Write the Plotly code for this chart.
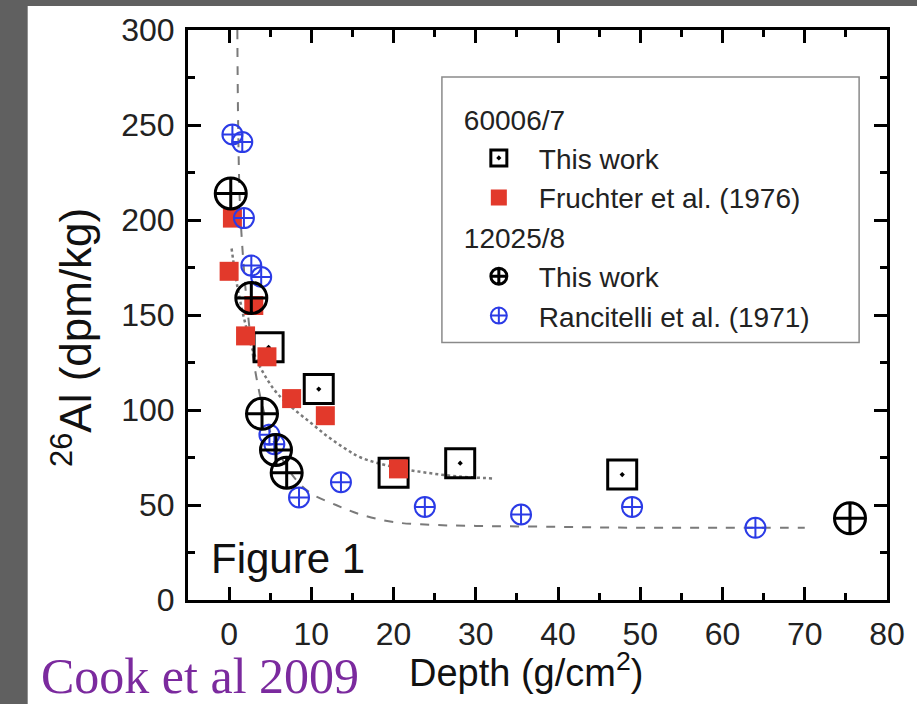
import plotly.graph_objects as go

# 60006/7 - this work (open squares with dot)
sq_x = [4.8, 10.9, 20.0, 28.1, 47.8]
sq_y = [133, 111, 67, 72, 66]

# 60006/7 - Fruchter et al. (1976)
fr_x = [0.0, 0.4, 2.0, 3.0, 4.6, 7.6, 11.7, 20.6]
fr_y = [173, 201, 139, 155, 128, 106, 97, 69]

# 12025/8 - this work (crossed circles)
cc_x = [0.2, 2.7, 4.0, 5.7, 7.0, 75.5]
cc_y = [214, 159, 98, 79, 67, 43]

# 12025/8 - Rancitelli et al. (1971)
ra_x = [0.4, 1.6, 1.8, 2.7, 3.9, 4.9, 5.5, 8.5, 13.6, 23.8, 35.5, 49.0, 64.0]
ra_y = [245, 241, 201, 176, 170, 87, 82, 54, 62, 49, 45, 49, 38]

# fitted curves
dash_x = [1.0, 1.1, 1.3, 1.7, 2.3, 3.2, 4.5, 6, 8, 10, 13, 16, 20, 25, 30, 40, 50, 60, 70]
dash_y = [300, 250, 210, 180, 150, 120, 95, 78, 64, 56, 50, 45, 41, 39.5, 39, 38.5, 38, 38, 38]
dot_x = [0.3, 1, 2, 3, 4.5, 6, 8, 10, 12, 14, 16, 20, 24, 28, 32]
dot_y = [185, 165, 145, 130, 117, 108, 100, 93, 86, 80, 75, 70, 67, 65, 64]

W, H = 917, 704
L, R, T, B = 188, 27, 29, 104
PW, PH = W - L - R, H - T - B


def px(x):
    return (x - L) / PW


def py(y):
    return 1 - (y - T) / PH


FONT = "Liberation Sans, Arial, sans-serif"

fig = go.Figure()

fig.add_trace(go.Scatter(x=dash_x, y=dash_y, mode="lines", line=dict(color="#7a7a7a", width=2, dash="dash", shape="spline"),
                         showlegend=False, hoverinfo="skip"))
fig.add_trace(go.Scatter(x=dot_x, y=dot_y, mode="lines", line=dict(color="#7a7a7a", width=2.5, dash="dot", shape="spline"),
                         showlegend=False, hoverinfo="skip"))

fig.add_trace(go.Scatter(
    x=sq_x, y=sq_y, mode="markers", name="This work",
    legendgroup="a", legendgrouptitle=dict(text="60006/7"), legendrank=1,
    marker=dict(symbol="square-open-dot", size=29, color="black", line=dict(width=3, color="black"))
))
fig.add_trace(go.Scatter(
    x=fr_x, y=fr_y, mode="markers", name="Fruchter et al. (1976)",
    legendgroup="a", legendrank=2,
    marker=dict(symbol="square", size=19, color="#e2392b")
))
fig.add_trace(go.Scatter(
    x=ra_x, y=ra_y, mode="markers", name="Rancitelli et al. (1971)",
    legendgroup="b", legendrank=4,
    marker=dict(symbol="circle-cross-open", size=20, color="#2b3be6", line=dict(width=2, color="#2b3be6"))
))
fig.add_trace(go.Scatter(
    x=cc_x, y=cc_y, mode="markers", name="This work",
    legendgroup="b", legendgrouptitle=dict(text="12025/8"), legendrank=3,
    marker=dict(symbol="circle-cross-open", size=31, color="black", line=dict(width=3, color="black"))
))

axis = dict(
    showline=True, linecolor="black", linewidth=3, mirror="ticks",
    ticks="inside", ticklen=13, tickwidth=3, tickcolor="black",
    showgrid=False, zeroline=False,
    tickfont=dict(family=FONT, size=32, color="#222"),
    ticklabelstandoff=4,
)

fig.update_xaxes(axis, range=[-5, 80], dtick=10, tick0=0,
                 minor=dict(ticks="inside", dtick=5, ticklen=7, tickwidth=3, tickcolor="black"))
fig.update_yaxes(axis, range=[0, 300], dtick=50, tick0=0,
                 minor=dict(ticks="inside", dtick=25, ticklen=7, tickwidth=3, tickcolor="black"))

fig.update_layout(
    width=W, height=H,
    margin=dict(l=L, r=R, t=T, b=B),
    paper_bgcolor="#606060",
    plot_bgcolor="white",
    font=dict(family=FONT, color="#222"),
    legend=dict(
        x=px(460), y=py(93), xanchor="left", yanchor="top",
        bgcolor="rgba(0,0,0,0)", borderwidth=0, itemwidth=70,
        font=dict(family=FONT, size=28, color="#222"),
        grouptitlefont=dict(family=FONT, size=28, color="#222"),
        tracegroupgap=0, traceorder="grouped",
    ),
    shapes=[
        dict(type="rect", xref="paper", yref="paper", layer="below",
             x0=px(27), x1=px(W + 5), y0=py(H + 5), y1=py(5),
             fillcolor="white", line=dict(width=0)),
        dict(type="rect", xref="paper", yref="paper", layer="above",
             x0=px(443), x1=px(862), y0=py(342), y1=py(76),
             line=dict(width=1.5, color="#8a8a8a")),
    ],
    annotations=[
        dict(text="Figure 1", x=-2.4, y=22, xref="x", yref="y", xanchor="left", yanchor="middle",
             showarrow=False, font=dict(family=FONT, size=42, color="#111")),
        dict(text="<sup>26</sup>Al (dpm/kg)", x=px(71), y=py(337), xref="paper", yref="paper",
             xanchor="center", yanchor="middle",
             textangle=-90, showarrow=False, font=dict(family=FONT, size=44, color="#111")),
        dict(text="Depth (g/cm<sup>2</sup>)", x=px(527), y=py(670), xref="paper", yref="paper",
             xanchor="center", yanchor="middle",
             showarrow=False, font=dict(family=FONT, size=38, color="#111")),
        dict(text="Cook et al 2009", x=px(38), y=py(676), xref="paper", yref="paper",
             xanchor="left", yanchor="middle",
             showarrow=False, font=dict(family="Liberation Serif, serif", size=50, color="#7b2a9e")),
    ],
)

fig.write_html("out.html", config={"displayModeBar": False},
               post_script="document.body.style.margin='0';")
